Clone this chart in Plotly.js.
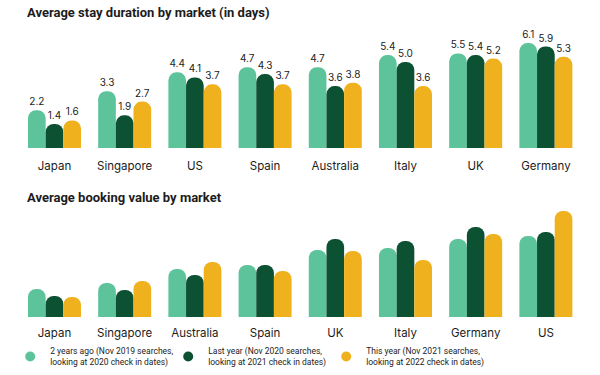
<!DOCTYPE html>
<html>
<head>
<meta charset="utf-8">
<script src="https://cdn.plot.ly/plotly-3.0.1.min.js"></script>
<style>
html,body{margin:0;padding:0;background:#fff;}
#chart{width:600px;height:375px;}
</style>
</head>
<body>
<div id="chart"></div>
<script>
// Top chart: average stay duration (days)
const stayMarkets = ["Japan", "Singapore", "US", "Spain", "Australia", "Italy", "UK", "Germany"];
const stay2019 = [2.2, 3.3, 4.4, 4.7, 4.7, 5.4, 5.5, 6.1];
const stay2020 = [1.4, 1.9, 4.1, 4.3, 3.6, 5.0, 5.4, 5.9];
const stay2021 = [1.6, 2.7, 3.7, 3.7, 3.8, 3.6, 5.2, 5.3];

// Bottom chart: average booking value (relative, no labels in source)
const bookMarkets = ["Japan", "Singapore", "Australia", "Spain", "UK", "Italy", "Germany", "US"];
const book2019 = [28, 34, 48, 52, 67, 69, 78, 81];
const book2020 = [21, 27, 42, 52, 78, 76, 90, 85];
const book2021 = [20, 36, 55, 46, 66, 57, 83, 106];

const seriesNames = [
  "2 years ago (Nov 2019 searches,<br>looking at 2020 check in dates)",
  "Last year (Nov 2020 searches,<br>looking at 2021 check in dates)",
  "This year (Nov 2021 searches,<br>looking at 2022 check in dates)"
];
const colors = ["#5DC39A", "#0C5132", "#F0B11E"];

const FONT = "Inter, 'Open Sans', sans-serif";
const TFONT = "Roboto, Inter, sans-serif";
const TXT = "#1c1c1c";

const stayData = [stay2019, stay2020, stay2021];
const bookData = [book2019, book2020, book2021];

const traces = [];
stayData.forEach((vals, i) => {
  traces.push({
    type: "bar", x: stayMarkets, y: vals, xaxis: "x", yaxis: "y",
    marker: {color: colors[i], cornerradius: "50%"},
    text: vals.map(v => v.toFixed(1)), textposition: "outside",
    textfont: {family: FONT, size: 10, color: TXT},
    cliponaxis: false, showlegend: false, hoverinfo: "skip"
  });
});
bookData.forEach((vals, i) => {
  traces.push({
    type: "bar", x: bookMarkets, y: vals, xaxis: "x2", yaxis: "y2",
    marker: {color: colors[i], cornerradius: "50%"},
    showlegend: false, hoverinfo: "skip"
  });
});
// legend entries (circles)
seriesNames.forEach((n, i) => {
  traces.push({
    type: "scatter", mode: "markers", x: [null], y: [null], xaxis: "x", yaxis: "y",
    name: n, marker: {color: colors[i], size: 10, symbol: "circle"}, showlegend: true
  });
});

const xdom = [0.0323, 0.9683];
const layout = {
  width: 600, height: 375,
  margin: {l: 0, r: 0, t: 0, b: 0},
  paper_bgcolor: "#fff", plot_bgcolor: "#fff",
  barmode: "group", bargap: 0.245, bargroupgap: 0,
  font: {family: FONT, color: TXT},
  xaxis: {domain: xdom, anchor: "y", ticks: "", showgrid: false, zeroline: false, showline: false,
          tickfont: {family: FONT, size: 11.5, color: TXT}, ticklabelstandoff: 9, fixedrange: true},
  yaxis: {domain: [0.6053, 0.9264], range: [0, 7], visible: false, fixedrange: true},
  xaxis2: {domain: xdom, anchor: "y2", ticks: "", showgrid: false, zeroline: false, showline: false,
          tickfont: {family: FONT, size: 11.5, color: TXT}, ticklabelstandoff: 8, fixedrange: true},
  yaxis2: {domain: [0.1547, 0.4747], range: [0, 120], visible: false, fixedrange: true},
  showlegend: true,
  legend: {orientation: "h", x: 0.017, xanchor: "left",
           y: 0, yanchor: "bottom",
           font: {family: TFONT, size: 8.5, color: TXT}, entrywidth: 113, entrywidthmode: "pixels",
           itemwidth: 30, tracegroupgap: 0, bgcolor: "rgba(0,0,0,0)"},
  annotations: [
    {text: "<b>Average stay duration by market (in days)</b>", xref: "paper", yref: "paper",
     x: 25/600, y: 1 - 13/375, xanchor: "left", yanchor: "middle", showarrow: false,
     font: {family: TFONT, size: 13, color: TXT}},
    {text: "<b>Average booking value by market</b>", xref: "paper", yref: "paper",
     x: 25/600, y: 1 - 197/375, xanchor: "left", yanchor: "middle", showarrow: false,
     font: {family: TFONT, size: 13, color: TXT}}
  ]
};

Plotly.newPlot("chart", traces, layout, {staticPlot: true, displayModeBar: false});
</script>
</body>
</html>
